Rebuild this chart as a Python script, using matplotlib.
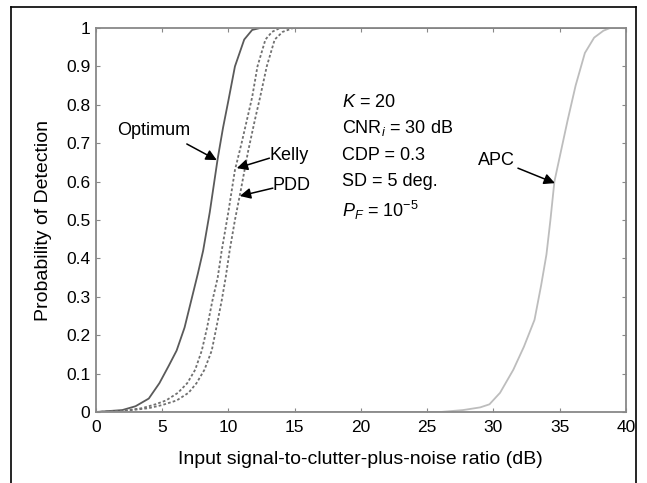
import matplotlib
matplotlib.use("Agg")
import matplotlib.pyplot as plt
from matplotlib.lines import Line2D

plt.rcParams['font.family'] = ['Liberation Sans', 'DejaVu Sans']
plt.rcParams['mathtext.fontset'] = 'custom'
plt.rcParams['mathtext.rm'] = 'Liberation Sans'
plt.rcParams['mathtext.it'] = 'Liberation Sans:italic'

# Data
opt_x = [0, 2, 3, 4, 4.8, 5.5, 6.1, 6.7, 7.2, 7.7, 8.1, 8.6, 9.2, 9.6, 10.0, 10.5, 10.9, 11.2, 11.8, 12.4, 40]
opt_y = [0, 0.005, 0.015, 0.035, 0.075, 0.12, 0.16, 0.22, 0.29, 0.36, 0.42, 0.52, 0.66, 0.74, 0.81, 0.90, 0.94, 0.97, 0.995, 1.0, 1.0]

kelly_x = [0, 2, 3.5, 4.5, 5.3, 6.2, 6.9, 7.5, 8.0, 8.4, 8.8, 9.2, 9.5, 10.0, 10.5, 11.0, 11.4, 11.8, 12.2, 12.8, 13.3, 13.9, 40]
kelly_y = [0, 0.003, 0.01, 0.02, 0.03, 0.05, 0.075, 0.11, 0.16, 0.22, 0.29, 0.35, 0.42, 0.52, 0.63, 0.70, 0.76, 0.82, 0.90, 0.97, 0.99, 1.0, 1.0]

pdd_x = [0, 2, 4, 5, 6.1, 7.0, 7.6, 8.2, 8.75, 9.1, 9.5, 9.8, 10.1, 10.5, 10.9, 11.5, 12.0, 12.4, 12.9, 13.5, 14.1, 14.9, 40]
pdd_y = [0, 0.002, 0.01, 0.018, 0.03, 0.05, 0.075, 0.11, 0.16, 0.22, 0.29, 0.35, 0.42, 0.50, 0.57, 0.68, 0.76, 0.82, 0.90, 0.97, 0.99, 1.0, 1.0]

apc_x = [0, 26, 27.7, 29, 29.7, 30.5, 31.0, 31.5, 32.3, 33.1, 33.6, 34.0, 34.3, 34.6, 35.1, 35.6, 36.2, 36.9, 37.6, 38.3, 38.8, 40]
apc_y = [0, 0.0, 0.005, 0.012, 0.02, 0.05, 0.08, 0.11, 0.17, 0.24, 0.33, 0.41, 0.50, 0.60, 0.68, 0.76, 0.85, 0.935, 0.975, 0.993, 1.0, 1.0]

x_ticks = [0, 5, 10, 15, 20, 25, 30, 35, 40]
y_ticks = [0, 0.1, 0.2, 0.3, 0.4, 0.5, 0.6, 0.7, 0.8, 0.9, 1.0]
y_tick_labels = ["0", "0.1", "0.2", "0.3", "0.4", "0.5", "0.6", "0.7", "0.8", "0.9", "1"]

fig = plt.figure(figsize=(6.47, 4.83), dpi=100)
ax = fig.add_axes([0.148, 0.147, 0.8195, 0.795])

ax.plot(opt_x, opt_y, color='#5a5a5a', lw=1.3)
ax.plot(kelly_x, kelly_y, color='#707070', lw=1.3, ls=(0, (1.5, 1.2)))
ax.plot(pdd_x, pdd_y, color='#707070', lw=1.3, ls=(0, (1.5, 1.2)))
ax.plot(apc_x, apc_y, color='#bdbdbd', lw=1.3)

ax.set_xlim(0, 40)
ax.set_ylim(0, 1)
ax.set_xticks(x_ticks)
ax.set_yticks(y_ticks)
ax.set_yticklabels(y_tick_labels)
ax.tick_params(direction='in', length=3, color='#888888', top=True, right=True,
               labelsize=12.5, pad=4)
ax.tick_params(axis='x', pad=6)
for s in ax.spines.values():
    s.set_color('#888888')
    s.set_linewidth(1.3)

ax.set_xlabel('Input signal-to-clutter-plus-noise ratio (dB)', fontsize=14, labelpad=11)
ax.set_ylabel('Probability of Detection', fontsize=14, labelpad=10)

ap = dict(arrowstyle='-|>', color='black', lw=1.1, mutation_scale=16, shrinkA=0, shrinkB=0)
fs = 13
ax.text(1.6, 0.732, 'Optimum', fontsize=fs, va='center', ha='left')
ax.annotate('', xy=(9.13, 0.656), xytext=(6.87, 0.698), arrowprops=ap)
ax.text(13.1, 0.669, 'Kelly', fontsize=fs, va='center', ha='left')
ax.annotate('', xy=(10.64, 0.635), xytext=(13.1, 0.661), arrowprops=ap)
ax.text(13.36, 0.591, 'PDD', fontsize=fs, va='center', ha='left')
ax.annotate('', xy=(10.87, 0.5625), xytext=(13.36, 0.583), arrowprops=ap)
ax.text(28.8, 0.656, 'APC', fontsize=fs, va='center', ha='left')
ax.annotate('', xy=(34.64, 0.596), xytext=(31.85, 0.635), arrowprops=ap)

params = [r'$K$ = 20', r'CNR$_{i}$ = 30 dB', 'CDP = 0.3', 'SD = 5 deg.', r'$P_{F}$ = 10$^{-5}$']
ys = [0.807, 0.74, 0.669, 0.599, 0.526]
for t, yy in zip(params, ys):
    ax.text(18.6, yy, t, fontsize=fs, va='center', ha='left')

# outer frame (open at bottom)
fig.add_artist(Line2D([11/647, 11/647], [0, 1 - 7/483], color='black', lw=1.2))
fig.add_artist(Line2D([636/647, 636/647], [0, 1 - 7/483], color='black', lw=1.2))
fig.add_artist(Line2D([11/647, 636/647], [1 - 7/483, 1 - 7/483], color='black', lw=1.2))

fig.savefig('out.png', dpi=100)
